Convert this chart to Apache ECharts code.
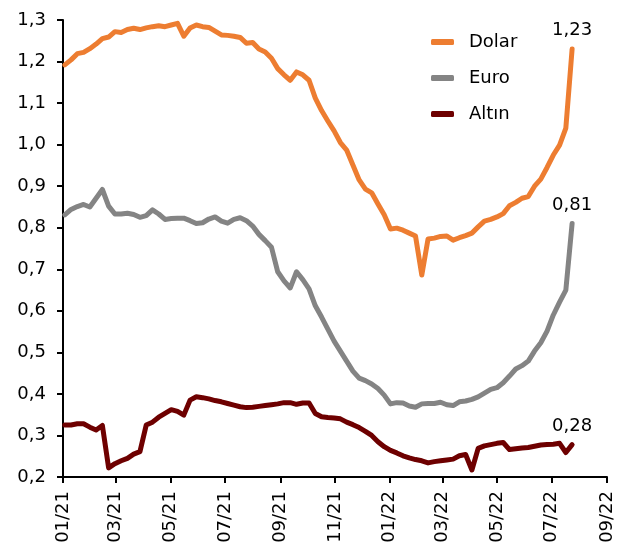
<!DOCTYPE html>
<html>
<head>
<meta charset="utf-8">
<script src="https://cdn.jsdelivr.net/npm/echarts@6/dist/echarts.min.js"></script>
<style>
html, body { margin: 0; padding: 0; background: #fff; }
#main { width: 629px; height: 556px; }
</style>
</head>
<body>
<div id="main"></div>
<script>
// haftalık veriler
const dates = [
  '2021-01-03','2021-01-10','2021-01-17','2021-01-24','2021-01-31',
  '2021-02-07','2021-02-14','2021-02-21','2021-02-28',
  '2021-03-07','2021-03-14','2021-03-21','2021-03-28',
  '2021-04-04','2021-04-11','2021-04-18','2021-04-25',
  '2021-05-02','2021-05-09','2021-05-16','2021-05-23','2021-05-30',
  '2021-06-06','2021-06-13','2021-06-20','2021-06-27',
  '2021-07-04','2021-07-11','2021-07-18','2021-07-25',
  '2021-08-01','2021-08-08','2021-08-15','2021-08-22','2021-08-29',
  '2021-09-05','2021-09-12','2021-09-19','2021-09-26',
  '2021-10-03','2021-10-10','2021-10-17','2021-10-24','2021-10-31',
  '2021-11-07','2021-11-14','2021-11-21','2021-11-28',
  '2021-12-05','2021-12-12','2021-12-19','2021-12-26',
  '2022-01-02','2022-01-09','2022-01-16','2022-01-23','2022-01-30',
  '2022-02-06','2022-02-13','2022-02-20','2022-02-27',
  '2022-03-06','2022-03-13','2022-03-20','2022-03-27',
  '2022-04-03','2022-04-10','2022-04-17','2022-04-24',
  '2022-05-01','2022-05-08','2022-05-15','2022-05-22','2022-05-29',
  '2022-06-05','2022-06-12','2022-06-19','2022-06-26',
  '2022-07-03','2022-07-10','2022-07-17','2022-07-24'
];

const dolar = [
  1.192,1.204,1.219,1.222,1.231,1.242,1.255,1.259,1.272,1.270,
  1.277,1.280,1.277,1.281,1.284,1.286,1.284,1.288,1.292,1.261,
  1.281,1.288,1.284,1.282,1.273,1.264,1.263,1.261,1.258,1.244,
  1.246,1.230,1.223,1.208,1.183,1.168,1.155,1.175,1.168,1.155,
  1.112,1.082,1.057,1.033,1.005,0.987,0.951,0.915,0.893,0.884,
  0.857,0.831,0.797,0.799,0.794,0.787,0.780,0.686,0.773,0.775,
  0.779,0.780,0.770,0.776,0.781,0.787,0.802,0.816,0.820,0.826,
  0.834,0.853,0.861,0.871,0.875,0.900,0.917,0.945,0.975,0.999,
  1.040,1.230
];

const euro = [
  0.831,0.844,0.851,0.856,0.850,0.871,0.892,0.852,0.833,0.833,
  0.835,0.832,0.825,0.829,0.843,0.833,0.820,0.822,0.823,0.823,
  0.817,0.810,0.812,0.821,0.826,0.816,0.811,0.820,0.824,0.817,
  0.804,0.784,0.769,0.753,0.694,0.672,0.655,0.694,0.675,0.653,
  0.612,0.585,0.556,0.527,0.503,0.479,0.455,0.438,0.432,0.424,
  0.413,0.397,0.376,0.379,0.378,0.371,0.368,0.376,0.377,0.377,
  0.380,0.374,0.372,0.381,0.383,0.387,0.393,0.402,0.411,0.415,
  0.427,0.443,0.460,0.468,0.479,0.503,0.523,0.551,0.590,0.621,
  0.650,0.810
];

const altin = [
  0.325,0.325,0.328,0.328,0.320,0.313,0.324,0.222,0.232,0.239,
  0.245,0.255,0.261,0.325,0.332,0.344,0.353,0.362,0.358,0.349,
  0.385,0.393,0.391,0.388,0.384,0.381,0.377,0.373,0.369,0.367,
  0.368,0.370,0.372,0.374,0.376,0.379,0.379,0.375,0.378,0.378,
  0.353,0.345,0.343,0.342,0.340,0.332,0.326,0.319,0.310,0.300,
  0.285,0.273,0.264,0.258,0.251,0.246,0.242,0.239,0.234,0.237,
  0.239,0.241,0.243,0.251,0.254,0.217,0.269,0.275,0.278,0.281,
  0.283,0.266,0.268,0.270,0.271,0.274,0.277,0.278,0.279,0.281,
  0.259,0.278
];

const tickLabels = ['01/21','03/21','05/21','07/21','09/21','11/21','01/22','03/22','05/22','07/22','09/22'];

const FONT = 'DejaVu Sans';

function toTime(s) {
  const p = s.split('-');
  return new Date(+p[0], +p[1] - 1, +p[2]).getTime();
}
function tickTime(lbl) {
  return new Date(2000 + +lbl.slice(3), +lbl.slice(0, 2) - 1, 1).getTime();
}
const tickTimes = tickLabels.map(tickTime);

function comma(v, d) {
  return v.toFixed(d).replace('.', ',');
}

function makeSeries(name, values, color) {
  const data = values.map(function (v, i) {
    const item = { value: [toTime(dates[i]), v] };
    if (i === values.length - 1) item.label = { show: true };
    return item;
  });
  return {
    name: name,
    type: 'line',
    data: data,
    symbol: 'circle',
    symbolSize: 1,
    showSymbol: true,
    color: color,
    itemStyle: { color: color },
    lineStyle: { color: color, width: 5, cap: 'round', join: 'round' },
    label: {
      show: false,
      position: 'top',
      distance: 9,
      fontFamily: FONT,
      fontSize: 18,
      color: '#000',
      formatter: function (p) { return comma(p.value[1], 2); }
    },
    emphasis: { disabled: true },
    silent: true
  };
}

const chart = echarts.init(document.getElementById('main'));
chart.setOption({
  animation: false,
  backgroundColor: '#fff',
  grid: { left: 63, right: 22, top: 20, bottom: 79, containLabel: false },
  legend: {
    orient: 'vertical',
    left: 426,
    top: 28,
    itemGap: 18,
    itemWidth: 23,
    itemHeight: 6,
    icon: 'roundRect',
    data: ['Dolar', 'Euro', 'Altın'],
    textStyle: { fontFamily: FONT, fontSize: 18, color: '#000', padding: [0, 0, 0, 10] }
  },
  xAxis: {
    type: 'value',
    min: tickTimes[0],
    max: tickTimes[tickTimes.length - 1],
    axisLine: { show: true, lineStyle: { color: '#000', width: 2 } },
    axisTick: { show: true, inside: false, length: 6, customValues: tickTimes, lineStyle: { color: '#000', width: 2 } },
    axisLabel: {
      customValues: tickTimes,
      rotate: 90,
      margin: 14,
      fontFamily: FONT,
      fontSize: 18,
      color: '#000',
      formatter: function (v) {
        const i = tickTimes.indexOf(v);
        return i >= 0 ? tickLabels[i] : '';
      }
    },
    splitLine: { show: false }
  },
  yAxis: {
    type: 'value',
    min: 0.2,
    max: 1.3,
    interval: 0.1,
    axisLine: { show: true, lineStyle: { color: '#000', width: 2 } },
    axisTick: { show: true, inside: false, length: 6, lineStyle: { color: '#000', width: 2 } },
    axisLabel: {
      margin: 17,
      fontFamily: FONT,
      fontSize: 18,
      color: '#000',
      formatter: function (v) { return comma(v, 1); }
    },
    splitLine: { show: false }
  },
  series: [
    makeSeries('Dolar', dolar, '#ED7D31'),
    makeSeries('Euro', euro, '#848484'),
    makeSeries('Altın', altin, '#6E0000')
  ]
});
</script>
</body>
</html>
